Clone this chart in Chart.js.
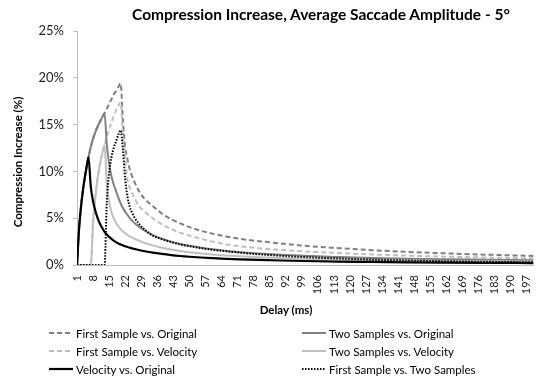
<!DOCTYPE html>
<html>
<head>
<meta charset="utf-8">
<script src="https://cdn.jsdelivr.net/npm/chart.js@4.4.0/dist/chart.umd.min.js"></script>
<style>
  body { margin: 0; background: #fff; font-family: Lato, "Open Sans", sans-serif; }
  #wrap { position: relative; width: 550px; height: 387px; overflow: hidden; }
  #chart { position: absolute; left: 0; top: 0; }
  .txt { position: absolute; white-space: nowrap; color: #000; }
  #title { left: 0; width: 642px; top: 5px; text-align: center; font-weight: bold; font-size: 15.5px; }
  #ytitle { left: -82px; width: 200px; top: 154px; text-align: center; font-weight: bold; font-size: 11.5px;
            transform: rotate(-90deg); transform-origin: 50% 50%; line-height: 16px; }
  #xtitle { left: 0; width: 572px; top: 303px; text-align: center; font-weight: bold; font-size: 11.5px; }
  .leg { position: absolute; height: 16px; display: flex; align-items: center; font-size: 11.5px; white-space: nowrap; }
  .leg svg { margin-right: 3px; }
</style>
</head>
<body>
<div id="wrap">
  <canvas id="chart" width="550" height="387"></canvas>
  <div class="txt" id="title">Compression Increase, Average Saccade Amplitude - 5°</div>
  <div class="txt" id="ytitle">Compression Increase (%)</div>
  <div class="txt" id="xtitle">Delay (ms)</div>
</div>
<script>
// delay in ms
const delays = [1, 2, 3, 4, 5, 6, 7, 8, 9, 10, 11, 12, 13, 14, 15, 16, 17, 18, 19, 20,
  21, 22, 23, 24, 25, 26, 28, 30, 34, 38, 42, 46, 50, 55, 60, 66, 72, 80, 90, 100,
  115, 130, 145, 160, 180, 200];

// compression increase in %
const firstOrig = [0, 4.2, 6.8, 8.7, 10.2, 11.5, 12.6, 13.5, 14.2, 14.8, 15.3, 15.8, 16.2, 16.7, 17.2, 17.7, 18.2, 18.6, 19.0, 19.4,
  15.5, 12.6, 11.3, 10.2, 9.5, 8.9, 7.9, 7.2, 6.3, 5.5, 4.9, 4.45, 4.05, 3.65, 3.35, 3.05, 2.8, 2.55, 2.3, 2.05,
  1.8, 1.58, 1.4, 1.26, 1.1, 0.97];
const twoOrig = [0, 4.2, 6.8, 8.7, 10.2, 11.5, 12.6, 13.5, 14.2, 14.8, 15.3, 15.8, 16.2, 12.8, 10.8, 9.5, 8.6, 7.9, 7.2, 6.6,
  6.1, 5.7, 5.35, 5.0, 4.75, 4.5, 4.1, 3.75, 3.2, 2.8, 2.5, 2.25, 2.05, 1.85, 1.68, 1.5, 1.37, 1.23, 1.09, 0.98,
  0.86, 0.76, 0.68, 0.62, 0.56, 0.5];
const firstVel = [0, 0, 0, 0, 0, 0, 0, 4.5, 7.3, 9.3, 10.8, 11.9, 12.8, 13.7, 14.5, 15.2, 15.9, 16.5, 17.0, 17.4,
  14.0, 11.3, 9.1, 8.3, 7.7, 7.2, 6.3, 5.8, 5.0, 4.35, 3.85, 3.45, 3.15, 2.8, 2.5, 2.2, 2.0, 1.8, 1.6, 1.45,
  1.28, 1.12, 1.0, 0.9, 0.8, 0.71];
const twoVel = [0, 0, 0, 0, 0, 0, 0, 4.5, 7.3, 9.3, 10.8, 11.9, 12.8, 8.6, 6.8, 5.7, 5.0, 4.5, 4.15, 3.85,
  3.6, 3.4, 3.2, 3.05, 2.92, 2.8, 2.6, 2.4, 2.1, 1.85, 1.65, 1.5, 1.37, 1.24, 1.13, 1.02, 0.93, 0.84, 0.75, 0.68,
  0.6, 0.53, 0.48, 0.44, 0.39, 0.35];
const velOrig = [0, 4.2, 6.8, 8.7, 10.2, 11.5, 8.4, 6.8, 5.8, 5.0, 4.4, 3.95, 3.55, 3.25, 3.0, 2.8, 2.6, 2.45, 2.3, 2.2,
  2.1, 2.0, 1.92, 1.85, 1.78, 1.72, 1.6, 1.5, 1.32, 1.18, 1.06, 0.96, 0.88, 0.8, 0.73, 0.66, 0.6, 0.54, 0.48, 0.43,
  0.37, 0.33, 0.29, 0.26, 0.23, 0.21];
const firstTwo = [0, 0, 0, 0, 0, 0, 0, 0, 0, 0, 0, 0, 0, 6.8, 9.8, 11.5, 12.5, 13.2, 13.9, 14.4,
  12.4, 9.2, 7.3, 6.2, 5.6, 5.1, 4.4, 3.9, 3.15, 2.75, 2.45, 2.2, 2.0, 1.8, 1.63, 1.47, 1.32, 1.15, 0.98, 0.85,
  0.7, 0.57, 0.48, 0.41, 0.34, 0.29];

const xTicks = [1, 8, 15, 22, 29, 36, 43, 50, 57, 64, 71, 78, 85, 92, 99, 106, 113, 120, 127, 134,
  141, 148, 155, 162, 169, 176, 183, 190, 197];
const yTicks = [0, 5, 10, 15, 20, 25];

const DARK = '#808080';
const LIGHT = '#bfbfbf';

function pts(arr) {
  return delays.map((d, i) => ({ x: d, y: arr[i] }));
}

// legend order; 'order' decides what is painted on top
const datasets = [
  { label: 'First Sample vs. Original', data: pts(firstOrig), borderColor: DARK, borderDash: [5, 3], borderWidth: 2, order: 5 },
  { label: 'Two Samples vs. Original', data: pts(twoOrig), borderColor: DARK, borderDash: [], borderWidth: 2, order: 3 },
  { label: 'First Sample vs. Velocity', data: pts(firstVel), borderColor: LIGHT, borderDash: [5, 3], borderWidth: 2, order: 4 },
  { label: 'Two Samples vs. Velocity', data: pts(twoVel), borderColor: LIGHT, borderDash: [], borderWidth: 2, order: 2 },
  { label: 'Velocity vs. Original', data: pts(velOrig), borderColor: '#000', borderDash: [], borderWidth: 2.2, order: 0 },
  { label: 'First Sample vs. Two Samples', data: pts(firstTwo), borderColor: '#000', borderDash: [1.5, 1.5], borderWidth: 2, order: 1 },
];
datasets.forEach(ds => {
  ds.pointRadius = 0;
  ds.fill = false;
  ds.cubicInterpolationMode = 'monotone';
});

new Chart(document.getElementById('chart'), {
  type: 'line',
  data: { datasets: datasets },
  options: {
    responsive: false,
    animation: false,
    layout: { padding: { left: 0, right: 8, top: 31, bottom: 0 } },
    plugins: { legend: { display: false }, tooltip: { enabled: false } },
    scales: {
      x: {
        type: 'linear',
        min: 1,
        max: 200,
        afterBuildTicks: (axis) => { axis.ticks = xTicks.map(v => ({ value: v })); },
        afterFit: (scale) => { scale.height = 387 - 265; },
        grid: { display: true, drawOnChartArea: false, drawTicks: false },
        border: { color: LIGHT, width: 1 },
        ticks: {
          autoSkip: false,
          minRotation: 90,
          maxRotation: 90,
          padding: 10,
          color: '#222',
          font: { family: 'Lato', size: 11 },
        },
      },
      y: {
        min: 0,
        max: 25,
        afterBuildTicks: (axis) => { axis.ticks = yTicks.map(v => ({ value: v })); },
        afterFit: (scale) => { scale.width = 77; },
        grid: { display: true, drawOnChartArea: false, drawTicks: true, tickLength: 4, color: LIGHT },
        border: { color: LIGHT, width: 1 },
        ticks: {
          padding: 9,
          color: '#222',
          font: { family: 'Lato', size: 13 },
          callback: (v) => v + '%',
        },
      },
    },
  },
});

// legend, two columns like the original
const wrap = document.getElementById('wrap');
const colX = [49, 302];
const rowY = [325, 343, 361];
datasets.forEach((ds, i) => {
  const el = document.createElement('div');
  el.className = 'leg';
  el.style.left = colX[i % 2] + 'px';
  el.style.top = rowY[Math.floor(i / 2)] + 'px';
  const dash = ds.borderDash.length ? `stroke-dasharray="${ds.borderDash.join(' ')}"` : '';
  el.innerHTML = `<svg width="24" height="4"><line x1="0" y1="2" x2="24" y2="2" stroke="${ds.borderColor}" stroke-width="${ds.borderWidth}" ${dash}/></svg><span>${ds.label}</span>`;
  wrap.appendChild(el);
});
</script>
</body>
</html>
